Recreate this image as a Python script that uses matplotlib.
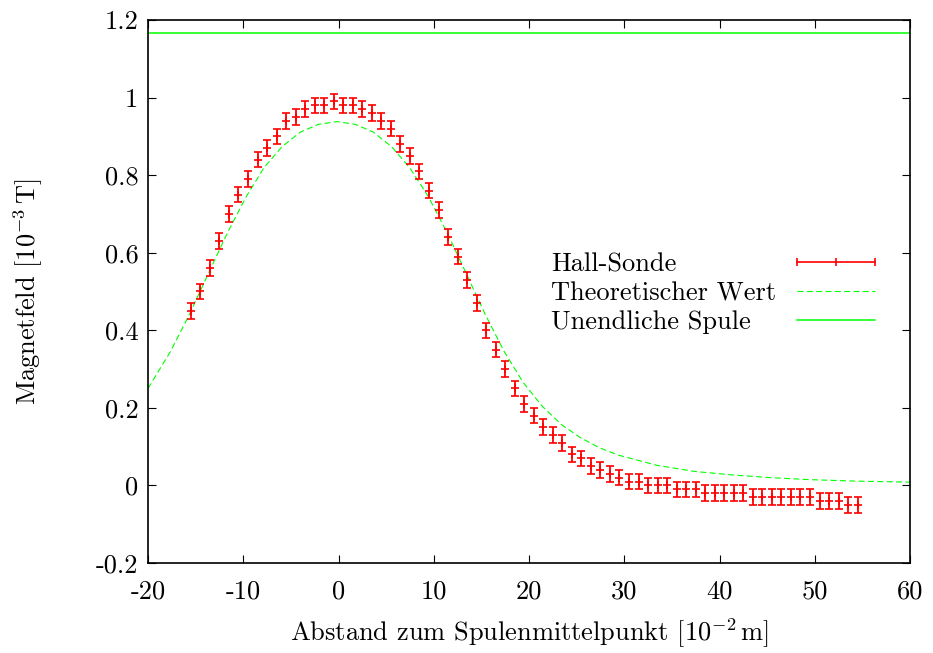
import matplotlib
matplotlib.use("Agg")
import matplotlib.pyplot as plt
import numpy as np

plt.rcParams['font.family'] = ['cmr10', 'DejaVu Serif']
plt.rcParams['mathtext.fontset'] = 'cm'
plt.rcParams['axes.unicode_minus'] = False
plt.rcParams['axes.formatter.use_mathtext'] = True

# ---- Data ----
hall_x = [-15.5, -14.5, -13.5, -12.5, -11.5, -10.5, -9.5, -8.5, -7.5, -6.5,
          -5.5, -4.5, -3.5, -2.5, -1.5, -0.5, 0.5, 1.5, 2.5, 3.5,
          4.5, 5.5, 6.5, 7.5, 8.5, 9.5, 10.5, 11.5, 12.5, 13.5,
          14.5, 15.5, 16.5, 17.5, 18.5, 19.5, 20.5, 21.5, 22.5, 23.5,
          24.5, 25.5, 26.5, 27.5, 28.5, 29.5, 30.5, 31.5, 32.5, 33.5,
          34.5, 35.5, 36.5, 37.5, 38.5, 39.5, 40.5, 41.5, 42.5, 43.5,
          44.5, 45.5, 46.5, 47.5, 48.5, 49.5, 50.5, 51.5, 52.5, 53.5, 54.5]
hall_y = [0.45, 0.50, 0.56, 0.63, 0.70, 0.75, 0.79, 0.84, 0.87, 0.90,
          0.94, 0.95, 0.97, 0.98, 0.98, 0.99, 0.98, 0.98, 0.97, 0.96,
          0.94, 0.92, 0.88, 0.85, 0.81, 0.76, 0.71, 0.64, 0.59, 0.53,
          0.47, 0.40, 0.35, 0.30, 0.25, 0.21, 0.18, 0.15, 0.13, 0.11,
          0.08, 0.07, 0.05, 0.04, 0.03, 0.02, 0.01, 0.01, 0.00, 0.00,
          0.00, -0.01, -0.01, -0.01, -0.02, -0.02, -0.02, -0.02, -0.02, -0.03,
          -0.03, -0.03, -0.03, -0.03, -0.03, -0.03, -0.04, -0.04, -0.04, -0.05, -0.05]
hall_err = [0.02] * len(hall_x)

theory_x = [-20.0, -17.65, -15.65, -13.65, -11.65, -9.65, -7.8, -5.9, -4.0, -2.1,
            -0.15, 1.75, 3.65, 5.55, 7.45, 9.4, 11.4, 13.4, 15.4, 17.4,
            19.4, 21.4, 23.4, 25.4, 27.4, 29.4, 33.4, 37.4, 41.4, 45.4,
            49.4, 54.4, 60.0]
theory_y = [0.250, 0.345, 0.441, 0.547, 0.652, 0.746, 0.820, 0.874, 0.911, 0.931,
            0.938, 0.931, 0.911, 0.874, 0.820, 0.746, 0.652, 0.547, 0.441, 0.345,
            0.265, 0.204, 0.157, 0.123, 0.097, 0.078, 0.052, 0.036, 0.027, 0.020,
            0.015, 0.011, 0.0085]

inf_coil_value = 1.166

x_ticks = [-20, -10, 0, 10, 20, 30, 40, 50, 60]
x_ticklabels = ['-20', '-10', '0', '10', '20', '30', '40', '50', '60']
y_ticks = [-0.2, 0, 0.2, 0.4, 0.6, 0.8, 1.0, 1.2]
y_ticklabels = ['-0.2', '0', '0.2', '0.4', '0.6', '0.8', '1', '1.2']

labels = ['Hall-Sonde', 'Theoretischer Wert', 'Unendliche Spule']

RED = '#ff0000'
GREEN = '#00ff00'
FS = 19

fig = plt.figure(figsize=(9.33, 6.53), dpi=100)
ax = fig.add_axes([148/933, 1-563/653, (910-148)/933, (563-20)/653])

ax.errorbar(hall_x, hall_y, yerr=hall_err, fmt='+', color=RED, ms=6.2, mew=1.2,
            elinewidth=1.3, capsize=3.1, capthick=1.3, zorder=3)
th_line, = ax.plot(theory_x, theory_y, color=GREEN, lw=0.8, zorder=2)
th_line.set_dashes([5.4, 3.0])
ax.axhline(inf_coil_value, color=GREEN, lw=1.1, zorder=2)

ax.set_xlim(-20, 60)
ax.set_ylim(-0.2, 1.2)
ax.set_xticks(x_ticks)
ax.set_xticklabels(x_ticklabels)
ax.set_yticks(y_ticks)
ax.set_yticklabels(y_ticklabels)
ax.tick_params(direction='in', length=5.8, width=0.8, top=True, right=True,
               labelsize=FS)
ax.tick_params(axis='x', pad=12)
ax.tick_params(axis='y', pad=7)
for s in ax.spines.values():
    s.set_linewidth(1.2)

ax.set_xlabel(r'Abstand zum Spulenmittelpunkt [$10^{-2}\,\mathrm{m}$]', fontsize=FS)
ax.set_ylabel(r'Magnetfeld [$10^{-3}\,\mathrm{T}$]', fontsize=FS)
ax.xaxis.set_label_coords(0.5, (563 - 617) / 543)
ax.yaxis.set_label_coords((45 - 148) / 762, 0.5)

# ---- Key (gnuplot style: text left, sample right) ----
tx = (551 - 148) / 762
sx0, sx1 = (797 - 148) / 762, (875 - 148) / 762
rows_y = [(563 - 261.7) / 543, (563 - 291) / 543, (563 - 320) / 543]
for lab, yy in zip(labels, rows_y):
    ax.text(tx, yy, lab, transform=ax.transAxes, fontsize=FS, ha='left', va='center_baseline')
# Hall sample
ax.plot([sx0, sx1], [rows_y[0]] * 2, transform=ax.transAxes, color=RED, lw=1.2, clip_on=False)
ax.plot([sx0, sx1], [rows_y[0]] * 2, transform=ax.transAxes, color=RED, ls='none',
        marker='|', ms=5.5, mew=1.2, clip_on=False)
ax.plot([(sx0 + sx1) / 2], [rows_y[0]], transform=ax.transAxes, color=RED, ls='none',
        marker='|', ms=5.5, mew=1.2, clip_on=False)
l2, = ax.plot([sx0, sx1], [rows_y[1]] * 2, transform=ax.transAxes, color=GREEN, lw=0.8, clip_on=False)
l2.set_dashes([5.4, 3.0])
ax.plot([sx0, sx1], [rows_y[2]] * 2, transform=ax.transAxes, color=GREEN, lw=1.1, clip_on=False)

fig.savefig('out.png', dpi=100)
